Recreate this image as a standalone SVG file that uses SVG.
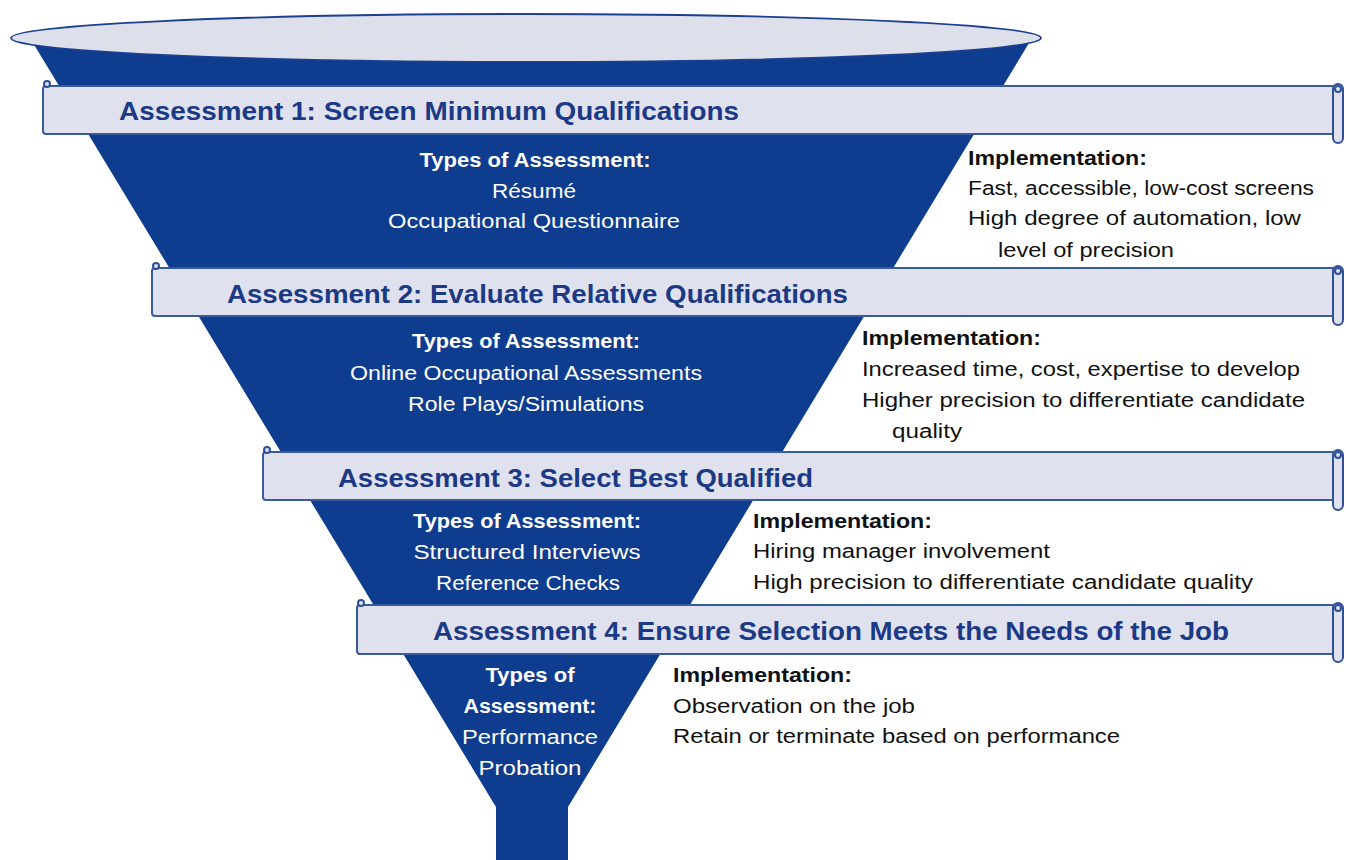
<svg xmlns="http://www.w3.org/2000/svg" width="1346" height="860" viewBox="0 0 1346 860">
<style>
.funnel{fill:#0e3c8e}
.rim{fill:#dde0ea;stroke:#1d3f8f;stroke-width:1.8}
.band{fill:#dfe2ee;stroke:#3a5a9e;stroke-width:2}
.roll{fill:#dfe2ee;stroke:#2f4f96;stroke-width:2}
.title{font-family:"Liberation Sans",Arial,sans-serif;font-weight:bold;font-size:26px;fill:#1c3986}
.w{font-family:"Liberation Sans",Arial,sans-serif;font-size:20px;fill:#ffffff;text-anchor:middle}
.wb{font-family:"Liberation Sans",Arial,sans-serif;font-size:20px;font-weight:bold;fill:#ffffff;text-anchor:middle}
.k{font-family:"Liberation Sans",Arial,sans-serif;font-size:20px;fill:#111111}
.kb{font-family:"Liberation Sans",Arial,sans-serif;font-size:20px;font-weight:bold;fill:#111111}
</style>
<rect width="1346" height="860" fill="#ffffff"/>
<g id="funnel">
<path class="funnel" d="M30,38 L496,807 L496,860 L568,860 L568,807 L1032,38 Z"/>
<ellipse class="rim" cx="526" cy="38" rx="515" ry="24"/>
</g>
<g id="stage1">
<rect class="band" x="43" y="86" width="1292" height="48" rx="3"/>
<circle class="roll" cx="47" cy="84" r="3"/>
<rect class="roll" x="1333" y="84" width="10" height="59" rx="5"/>
<circle class="roll" cx="1338" cy="89" r="3"/>
<text class="title" x="119" y="120" textLength="620" lengthAdjust="spacingAndGlyphs">Assessment 1: Screen Minimum Qualifications</text>
<text class="wb" x="535" y="167" textLength="231" lengthAdjust="spacingAndGlyphs">Types of Assessment:</text>
<text class="w" x="534" y="198" textLength="84" lengthAdjust="spacingAndGlyphs">Résumé</text>
<text class="w" x="534" y="228" textLength="292" lengthAdjust="spacingAndGlyphs">Occupational Questionnaire</text>
<text class="kb" x="968" y="165" textLength="179" lengthAdjust="spacingAndGlyphs">Implementation:</text>
<text class="k" x="968" y="195" textLength="346" lengthAdjust="spacingAndGlyphs">Fast, accessible, low-cost screens</text>
<text class="k" x="968" y="225" textLength="333" lengthAdjust="spacingAndGlyphs">High degree of automation, low</text>
<text class="k" x="998" y="257" textLength="176" lengthAdjust="spacingAndGlyphs">level of precision</text>
</g>
<g id="stage2">
<rect class="band" x="152" y="268" width="1183" height="48" rx="3"/>
<circle class="roll" cx="156" cy="266" r="3"/>
<rect class="roll" x="1333" y="266" width="10" height="59" rx="5"/>
<circle class="roll" cx="1338" cy="271" r="3"/>
<text class="title" x="227" y="303" textLength="621" lengthAdjust="spacingAndGlyphs">Assessment 2: Evaluate Relative Qualifications</text>
<text class="wb" x="526" y="348" textLength="228" lengthAdjust="spacingAndGlyphs">Types of Assessment:</text>
<text class="w" x="526" y="380" textLength="352" lengthAdjust="spacingAndGlyphs">Online Occupational Assessments</text>
<text class="w" x="526" y="411" textLength="236" lengthAdjust="spacingAndGlyphs">Role Plays/Simulations</text>
<text class="kb" x="862" y="345" textLength="179" lengthAdjust="spacingAndGlyphs">Implementation:</text>
<text class="k" x="862" y="376" textLength="438" lengthAdjust="spacingAndGlyphs">Increased time, cost, expertise to develop</text>
<text class="k" x="862" y="407" textLength="443" lengthAdjust="spacingAndGlyphs">Higher precision to differentiate candidate</text>
<text class="k" x="892" y="438" textLength="70" lengthAdjust="spacingAndGlyphs">quality</text>
</g>
<g id="stage3">
<rect class="band" x="263" y="452" width="1072" height="48" rx="3"/>
<circle class="roll" cx="267" cy="450" r="3"/>
<rect class="roll" x="1333" y="450" width="10" height="60" rx="5"/>
<circle class="roll" cx="1338" cy="455" r="3"/>
<text class="title" x="338" y="487" textLength="475" lengthAdjust="spacingAndGlyphs">Assessment 3: Select Best Qualified</text>
<text class="wb" x="527" y="528" textLength="228" lengthAdjust="spacingAndGlyphs">Types of Assessment:</text>
<text class="w" x="527" y="559" textLength="227" lengthAdjust="spacingAndGlyphs">Structured Interviews</text>
<text class="w" x="528" y="590" textLength="184" lengthAdjust="spacingAndGlyphs">Reference Checks</text>
<text class="kb" x="753" y="528" textLength="179" lengthAdjust="spacingAndGlyphs">Implementation:</text>
<text class="k" x="753" y="558" textLength="297" lengthAdjust="spacingAndGlyphs">Hiring manager involvement</text>
<text class="k" x="753" y="589" textLength="500" lengthAdjust="spacingAndGlyphs">High precision to differentiate candidate quality</text>
</g>
<g id="stage4">
<rect class="band" x="357" y="605" width="978" height="49" rx="3"/>
<circle class="roll" cx="361" cy="603" r="3"/>
<rect class="roll" x="1333" y="603" width="10" height="59" rx="5"/>
<circle class="roll" cx="1338" cy="608" r="3"/>
<text class="title" x="433" y="640" textLength="796" lengthAdjust="spacingAndGlyphs">Assessment 4: Ensure Selection Meets the Needs of the Job</text>
<text class="wb" x="530" y="682" textLength="89" lengthAdjust="spacingAndGlyphs">Types of</text>
<text class="wb" x="530" y="713" textLength="133" lengthAdjust="spacingAndGlyphs">Assessment:</text>
<text class="w" x="530" y="744" textLength="136" lengthAdjust="spacingAndGlyphs">Performance</text>
<text class="w" x="530" y="775" textLength="103" lengthAdjust="spacingAndGlyphs">Probation</text>
<text class="kb" x="673" y="682" textLength="179" lengthAdjust="spacingAndGlyphs">Implementation:</text>
<text class="k" x="673" y="713" textLength="242" lengthAdjust="spacingAndGlyphs">Observation on the job</text>
<text class="k" x="673" y="743" textLength="447" lengthAdjust="spacingAndGlyphs">Retain or terminate based on performance</text>
</g>
</svg>
